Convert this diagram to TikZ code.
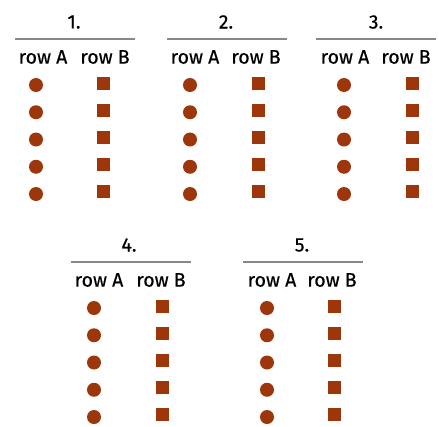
\documentclass[tikz,border=0pt]{standalone}
\usepackage{fontspec}
\setmainfont{Fira Sans}
\newfontfamily\lblfont{Fira Sans}[FakeBold=0.4]
\definecolor{dotbrown}{RGB}{158,54,12}
\definecolor{rulegray}{RGB}{136,136,136}
\begin{document}
\begin{tikzpicture}[x=1pt,y=-1pt,
  lbl/.style={inner sep=0pt,font=\lblfont\fontsize{19.5}{22}\selectfont},
  dot/.style={circle,fill=dotbrown,draw=none,inner sep=0pt,minimum size=14pt},
  sq/.style={rectangle,fill=dotbrown,draw=none,inner sep=0pt,minimum size=13pt},
  rule/.style={draw=rulegray,line width=2.6pt}]
\useasboundingbox (0,0) rectangle (439,426);
% panel data: name, line start, line end, title x, rowA x, rowB x, circle x, square x, top y offset
\foreach \p/\ls/\le/\tx/\ax/\bx/\cx/\sx/\oy in {
  1/15/135/74/43/105/36/103/0,
  2/167/287/226/195/256/190/258/0,
  3/316/436/376/345/406/344/412/0,
  4/71/191/129/99/161/94/162/223,
  5/243/363/302/272/332/267/334/223}{
  \node[lbl] (t\p) at (\tx,22+\oy) {\p.};
  \coordinate (l\p a) at (\ls,39+\oy);
  \coordinate (l\p b) at (\le,39+\oy);
  \draw[rule] (l\p a) -- (l\p b);
  \node[lbl] (ra\p) at (\ax,57+\oy) {row A};
  \node[lbl] (rb\p) at (\bx,57+\oy) {row B};
  \foreach \i in {0,...,4}{
    \node[dot] (c\p-\i) at (\cx,85+27.25*\i+\oy) {};
    \node[sq] (s\p-\i) at (\sx,83.5+27.1*\i+\oy) {};
  }
}
\end{tikzpicture}
\end{document}
